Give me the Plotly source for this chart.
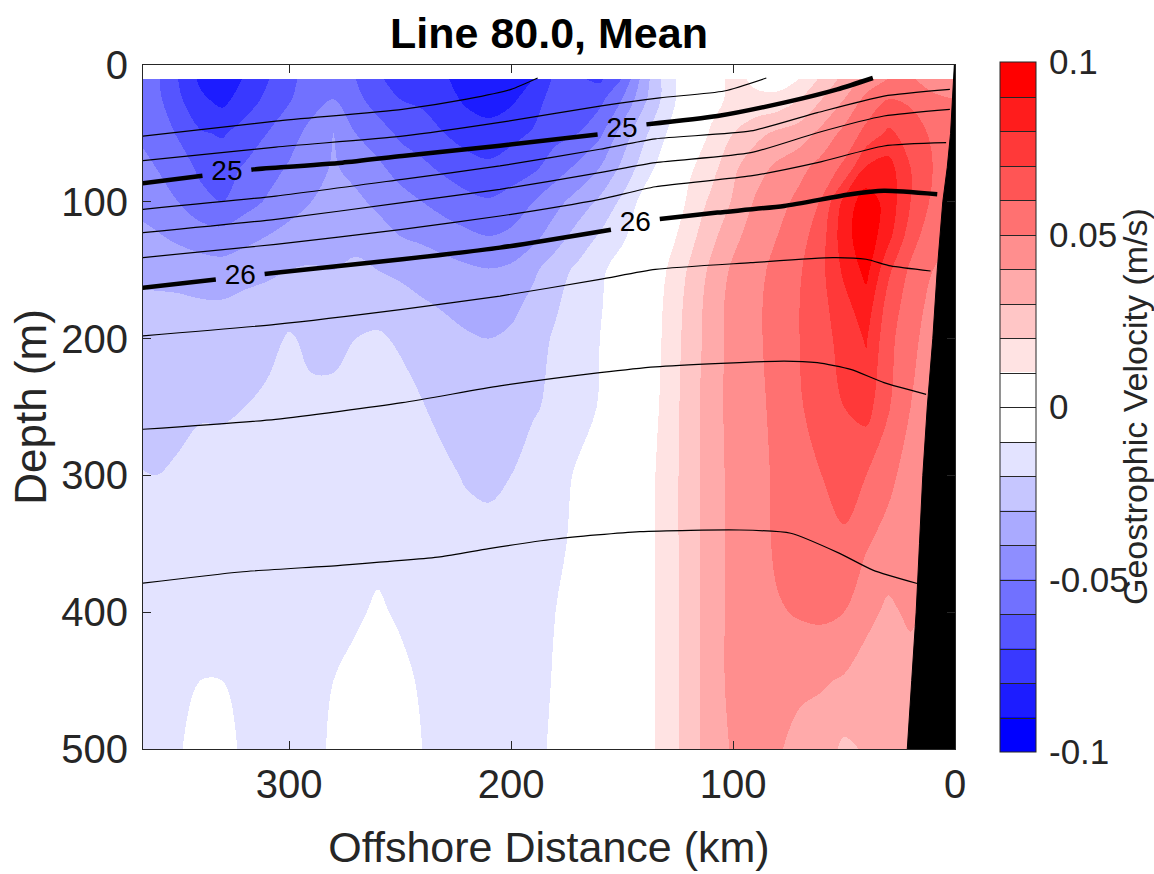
import numpy as np
import plotly.graph_objects as go

# ---------------- data ----------------
# grid columns: offshore distance (km), from offshore (left of plot) to the coast
dist_km = [370, 360, 350, 340, 330, 320, 310, 300, 290, 280, 270, 260, 250, 240, 230, 220, 210, 200, 190,
           180, 170, 160, 150, 140, 130, 120, 110, 100, 90, 80, 70, 60, 50, 40, 30, 20, 10, 0]
depth_m = [10, 25, 50, 75, 100, 125, 150, 175, 200, 250, 300, 350, 400, 450, 500]

# mean geostrophic velocity (cm/s), one row per depth, columns as dist_km
vel_cm = [
    [-5.3, -5.8, -7.0, -8.2, -8.8, -7.9, -7.1, -6.3, -5.5, -5.3, -6.0, -6.9, -7.3, -7.5, -7.9, -8.4, -8.8, -8.6, -8.0,
     -6.8, -6.9, -7.2, -6.0, -3.5, -1.5, -0.3, 0.5, 1.3, 0.8, 0.5, 1.0, 2.2, 3.3, 4.3, 5.0, 5.1, 4.6, 4.5],
    [-5.2, -5.7, -6.8, -7.8, -8.3, -7.5, -6.8, -6.1, -5.4, -5.0, -5.7, -6.5, -7.0, -7.2, -7.6, -8.2, -8.5, -8.2, -7.5,
     -6.5, -6.8, -6.3, -5.0, -3.2, -1.6, -0.2, 0.7, 1.2, 1.2, 1.3, 2.0, 3.0, 4.0, 5.3, 6.0, 5.8, 5.2, 5.0],
    [-5.0, -5.4, -6.1, -6.9, -7.1, -6.6, -6.0, -5.4, -4.7, -4.0, -5.0, -5.5, -6.2, -6.5, -7.0, -7.4, -7.6, -7.3, -6.9,
     -6.3, -6.0, -5.2, -3.6, -2.2, -1.0, 0.2, 1.1, 2.0, 2.7, 3.2, 3.5, 4.3, 5.3, 6.3, 7.2, 6.6, 5.8, 5.5],
    [-4.6, -5.0, -5.5, -6.2, -6.4, -5.9, -5.4, -4.9, -4.4, -3.9, -4.3, -4.8, -5.4, -5.8, -6.2, -6.6, -6.8, -6.5, -6.2,
     -5.5, -4.8, -4.0, -2.8, -1.5, -0.4, 0.8, 1.6, 2.8, 3.6, 4.2, 4.7, 5.4, 6.2, 8.1, 8.4, 7.0, 6.0, 5.6],
    [-4.2, -4.5, -5.0, -5.7, -6.0, -5.4, -4.9, -4.4, -4.0, -3.7, -3.8, -4.2, -4.6, -5.0, -5.4, -5.7, -5.9, -5.6, -5.0,
     -4.3, -3.6, -2.8, -1.8, -0.6, -0.2, 1.2, 2.2, 3.1, 4.1, 4.6, 5.3, 6.1, 8.3, 9.6, 8.6, 7.0, 5.8, 5.3],
    [-3.7, -3.9, -4.2, -4.5, -4.6, -4.3, -4.0, -3.7, -3.5, -3.4, -3.3, -3.6, -4.0, -4.2, -4.5, -4.8, -5.0, -4.8, -4.3,
     -3.5, -2.6, -1.9, -1.2, -0.3, 0.5, 1.6, 2.7, 3.7, 4.5, 5.0, 5.6, 6.6, 8.6, 9.7, 8.3, 6.5, 5.3, 5.0],
    [-3.2, -3.3, -3.4, -3.5, -3.6, -3.4, -3.2, -3.0, -2.9, -3.0, -2.8, -3.0, -3.2, -3.4, -3.6, -3.8, -3.95, -3.8, -3.2,
     -2.4, -1.8, -1.2, -0.5, 0.1, 1.0, 2.1, 3.2, 4.2, 4.7, 5.3, 5.9, 6.8, 8.2, 9.3, 7.2, 5.8, 5.0, 4.6],
    [-2.8, -2.8, -2.8, -2.9, -2.9, -2.7, -2.6, -2.4, -2.5, -2.6, -2.3, -2.3, -2.6, -2.9, -3.1, -3.3, -3.5, -3.3, -2.7,
     -2.1, -1.6, -1.1, -0.4, 0.2, 1.15, 2.3, 3.4, 4.4, 4.8, 5.4, 6.0, 6.7, 7.7, 8.6, 6.6, 5.5, 4.7, 4.4],
    [-2.5, -2.5, -2.5, -2.5, -2.5, -2.4, -2.3, -1.9, -2.2, -2.3, -2.0, -1.9, -2.1, -2.4, -2.7, -2.9, -3.0, -2.8, -2.3,
     -1.9, -1.4, -1.0, -0.3, 0.3, 1.2, 2.4, 3.4, 4.4, 4.8, 5.4, 6.0, 6.6, 7.4, 8.1, 6.3, 5.3, 4.5, 4.2],
    [-2.2, -2.3, -2.2, -2.1, -2.1, -2.0, -1.8, -1.6, -1.8, -1.7, -1.7, -1.6, -1.7, -1.95, -2.3, -2.5, -2.6, -2.4, -2.1,
     -1.8, -1.3, -0.95, -0.3, 0.4, 1.3, 2.5, 3.5, 4.4, 4.7, 5.3, 5.9, 6.5, 7.0, 7.4, 6.1, 5.0, 4.2, 4.0],
    [-1.95, -2.0, -1.9, -1.7, -1.7, -1.6, -1.5, -1.4, -1.5, -1.5, -1.5, -1.4, -1.4, -1.6, -1.8, -2.1, -2.2, -2.0, -1.6,
     -1.3, -0.9, -0.6, -0.2, 0.6, 1.4, 2.5, 3.5, 4.3, 4.6, 5.2, 5.6, 6.0, 6.5, 6.0, 5.3, 4.5, 4.0, 3.8],
    [-1.6, -1.5, -1.5, -1.4, -1.4, -1.4, -1.3, -1.3, -1.3, -1.3, -1.3, -1.2, -1.3, -1.3, -1.4, -1.6, -1.7, -1.5, -1.4,
     -1.2, -0.8, -0.5, -0.2, 0.6, 1.4, 2.5, 3.5, 4.3, 4.5, 5.2, 5.4, 5.6, 5.8, 5.1, 4.6, 4.3, 3.8, 3.6],
    [-1.4, -1.4, -1.4, -1.2, -1.2, -1.3, -1.3, -1.3, -1.3, -1.15, -1.1, -0.9, -1.1, -1.2, -1.3, -1.4, -1.4, -1.3, -1.3,
     -1.0, -0.7, -0.4, -0.2, 0.6, 1.4, 2.5, 3.5, 4.3, 4.5, 4.9, 5.1, 5.2, 5.0, 4.3, 3.8, 4.2, 3.6, 3.4],
    [-1.3, -1.3, -1.3, -1.0, -1.0, -1.2, -1.3, -1.3, -1.3, -1.0, -0.8, -0.6, -0.8, -1.1, -1.2, -1.3, -1.3, -1.2, -1.2,
     -0.95, -0.6, -0.4, -0.2, 0.6, 1.4, 2.5, 3.5, 4.3, 4.4, 4.4, 4.2, 4.1, 3.9, 3.5, 3.4, 3.5, 3.4, 3.2],
    [-1.2, -1.2, -1.1, -0.6, -0.6, -1.2, -1.3, -1.3, -1.2, -0.9, -0.5, -0.3, -0.5, -1.0, -1.2, -1.2, -1.2, -1.15, -1.15,
     -0.9, -0.6, -0.4, -0.2, 0.6, 1.4, 2.5, 3.5, 4.1, 4.3, 4.1, 3.7, 3.5, 2.8, 3.1, 3.2, 3.2, 3.2, 3.0],
]

# isopycnals (sigma-theta): depth (m) at offshore distances (km)
iso_thin = {
    "24.50": ([366, 306, 249, 220, 200, 188], [52, 41, 32.4, 25, 17.8, 9.5]),
    "24.75": ([366, 306, 249, 205, 160, 133, 104, 85], [70, 60, 52, 42, 30, 24, 19, 9.5]),
    "25.25": ([366, 306, 249, 205, 160, 135, 92, 62, 32, 2.3],
              [105.5, 95.8, 83.6, 73.8, 61.6, 54, 48.2, 34.8, 22.7, 17.8]),
    "25.50": ([366, 306, 249, 205, 160, 135, 92, 62, 32, 2.3],
              [122.6, 112.8, 100.6, 90.9, 78.7, 71.4, 64.1, 49.5, 37.3, 32.4]),
    "25.75": ([366, 306, 249, 205, 160, 135, 92, 62, 32, 4],
              [140.8, 131.1, 120.1, 110.4, 98.2, 89, 81.1, 71.4, 59.2, 56.8]),
    "26.25": ([366, 306, 249, 205, 160, 135, 92, 55, 40, 29, 11],
              [198, 189.6, 178.6, 168.9, 156.7, 149.4, 144.5, 140.8, 142, 146.9, 150.6]),
    "26.50": ([366, 306, 249, 205, 160, 135, 77, 62, 47, 32, 13],
              [266.3, 259, 246.8, 234.6, 224.9, 220.6, 216.4, 217.6, 222.5, 232.2, 240.8]),
    "26.75": ([367, 322, 277, 232, 210, 180, 142, 97, 74, 52, 37, 17],
              [379, 370.6, 365.7, 359.6, 353.5, 346.5, 341.1, 339.9, 342.3, 357, 369.2, 379]),
}
iso_bold = {
    "25": ([366, 316, 276, 249, 205, 160, 139, 107, 77, 53, 37],
           [86.5, 76.3, 71.4, 66.5, 59, 50.7, 43.4, 37.3, 27.5, 17.8, 9.5]),
    "26": ([366, 306, 249, 205, 154, 134, 107, 77, 47, 32, 8],
           [162.8, 151.8, 142, 133.5, 120.1, 112.8, 107.9, 103, 94.5, 92, 94.5]),
}
# where the inline labels of the bold isopycnals sit (km)
label_km = {"25": [328, 150], "26": [322, 144]}
label_halfgap_km = 11

# bathymetry (shelf/slope): offshore distance of the bottom at each depth
bottom_km = [0.3, 1.0, 2.0, 3.5, 5.5, 8.0, 10.0, 12.5, 14.5, 16.0, 17.5, 19.5, 21.5]
bottom_depth = [0, 25, 50, 75, 100, 150, 200, 250, 300, 350, 400, 450, 500]
coast_km = 0

x_ticks = [0, 100, 200, 300]
y_ticks = [0, 100, 200, 300, 400, 500]
cb_tickvals = [-0.1, -0.05, 0, 0.05, 0.1]
cb_ticktext = ["-0.1", "-0.05", "0", "0.05", "0.1"]

# 20 discrete bands from -0.1 to 0.1 m/s (blue -> white -> red)
band_colors = [
    "rgb(0,0,255)", "rgb(28,28,255)", "rgb(57,57,255)", "rgb(85,85,255)", "rgb(113,113,255)",
    "rgb(142,142,255)", "rgb(170,170,255)", "rgb(198,198,255)", "rgb(227,227,255)", "rgb(255,255,255)",
    "rgb(255,255,255)", "rgb(255,227,227)", "rgb(255,198,198)", "rgb(255,170,170)", "rgb(255,142,142)",
    "rgb(255,113,113)", "rgb(255,85,85)", "rgb(255,57,57)", "rgb(255,28,28)", "rgb(255,0,0)",
]

# ---------------- figure ----------------
FONT = "Liberation Sans, Arial, Helvetica, sans-serif"
TXT = "#262626"
W, H = 1154, 874
ML, MR, MT, MB = 143, 199, 65, 125
PW, PH = W - ML - MR, H - MT - MB

x = np.array(dist_km[::-1], dtype=float)
z = (np.array(vel_cm, dtype=float) / 100.0)[:, ::-1]

nb = len(band_colors)
# fill colorscale for levels -0.1..0.1 step 0.01 (plotly samples at band centres)
fill_scale = [[0, "white"], [0.5 / (nb + 1), "white"]]
for k, c in enumerate(band_colors):
    fill_scale += [[(k + 0.5) / (nb + 1), c], [(k + 1.5) / (nb + 1), c]]
fill_scale += [[(nb + 0.5) / (nb + 1), "white"], [1, "white"]]
# colorbar colorscale spanning exactly -0.1..0.1
cb_scale = []
for k, c in enumerate(band_colors):
    cb_scale += [[k / nb, c], [(k + 1) / nb, c]]

fig = go.Figure()

fig.add_trace(go.Contour(
    x=x, y=depth_m, z=z,
    colorscale=fill_scale,
    contours=dict(start=-0.1, end=0.1, size=0.01, coloring="fill", showlines=False),
    line=dict(width=0, smoothing=1),
    showscale=False, hoverinfo="skip",
))

# colour bar (drawn by an off-axis contour trace so that the bar spans exactly +-0.1)
fig.add_trace(go.Contour(
    x=[5000, 5001], y=[5000, 5001], z=[[-0.1, 0.1], [-0.1, 0.1]],
    zauto=False, zmin=-0.1, zmax=0.1, colorscale=cb_scale,
    contours=dict(start=-0.09, end=0.09, size=0.01, coloring="heatmap", showlines=True),
    line=dict(color=TXT, width=1),
    hoverinfo="skip", showscale=True,
    colorbar=dict(
        thickness=36, thicknessmode="pixels", len=690, lenmode="pixels",
        x=(1000 - ML) / PW, xanchor="left", xpad=0,
        y=1 - (407 - MT) / PH, yanchor="middle", ypad=0,
        outlinecolor=TXT, outlinewidth=1,
        tickmode="array", tickvals=cb_tickvals, ticktext=cb_ticktext,
        ticks="outside", ticklen=6, tickcolor="rgba(0,0,0,0)",
        tickfont=dict(family=FONT, size=35, color=TXT),
    ),
))

for name, (xs, ys) in iso_thin.items():
    fig.add_trace(go.Scatter(x=xs, y=ys, mode="lines", line=dict(color="black", width=1.2, shape="spline", smoothing=0.6),
                             hoverinfo="skip", showlegend=False))


def gapped(xs, ys, centres, hw):
    xa = np.array(xs[::-1], float)
    ya = np.array(ys[::-1], float)
    outx, outy = [], []
    pts = sorted(list(zip(xa, ya)))
    cuts = sorted(centres)
    edges = [-1e9]
    for c in cuts:
        edges += [c - hw, c + hw]
    edges.append(1e9)
    for i in range(0, len(edges), 2):
        a, b = edges[i], edges[i + 1]
        seg = [(px, py) for px, py in pts if a < px < b]
        if a > -1e8:
            seg = [(a, float(np.interp(a, xa, ya)))] + seg
        if b < 1e8:
            seg = seg + [(b, float(np.interp(b, xa, ya)))]
        outx += [p[0] for p in seg] + [None]
        outy += [p[1] for p in seg] + [None]
    return outx, outy, [float(np.interp(c, xa, ya)) for c in centres]


for name, (xs, ys) in iso_bold.items():
    gx, gy, ly = gapped(xs, ys, label_km[name], label_halfgap_km)
    fig.add_trace(go.Scatter(x=gx, y=gy, mode="lines", line=dict(color="black", width=4.5, shape="spline", smoothing=0.6),
                             hoverinfo="skip", showlegend=False, connectgaps=False))
    fig.add_trace(go.Scatter(x=label_km[name], y=ly, mode="text", text=[name] * len(ly),
                             textfont=dict(family=FONT, size=28, color="black"),
                             textposition="middle center", hoverinfo="skip", showlegend=False))

# bathymetry
fig.add_trace(go.Scatter(
    x=bottom_km + [coast_km, coast_km], y=bottom_depth + [bottom_depth[-1], bottom_depth[0]],
    mode="lines", fill="toself", fillcolor="black", line=dict(color="black", width=1),
    hoverinfo="skip", showlegend=False))

axis_common = dict(
    showgrid=False, zeroline=False, showline=True, linecolor=TXT, linewidth=1, mirror="allticks",
    ticks="inside", ticklen=8, tickwidth=1, tickcolor=TXT,
    tickfont=dict(family=FONT, size=40, color=TXT),
)
fig.update_layout(
    width=W, height=H,
    margin=dict(l=ML, r=MR, t=MT, b=MB, autoexpand=False),
    paper_bgcolor="white", plot_bgcolor="white",
    showlegend=False,
    title=dict(text="<b>Line 80.0, Mean</b>", x=0.5, xref="paper", xanchor="center",
               y=1 - 33 / H, yref="container", yanchor="middle",
               font=dict(family=FONT, size=43, color="black")),
    xaxis=dict(range=[365.8, 0], tickvals=x_ticks, ticklabelstandoff=0,
               title=dict(text="Offshore Distance (km)", font=dict(family=FONT, size=43, color=TXT), standoff=26),
               **axis_common),
    yaxis=dict(range=[500, 0], tickvals=y_ticks, ticklabelstandoff=6,
               title=dict(text="Depth (m)", font=dict(family=FONT, size=44, color=TXT), standoff=0),
               **axis_common),
    annotations=[dict(
        text="Geostrophic Velocity (m/s)", textangle=-90, showarrow=False,
        xref="paper", yref="paper", x=(1135 - ML) / PW, y=1 - (407 - MT) / PH,
        xanchor="center", yanchor="middle",
        font=dict(family=FONT, size=34, color=TXT),
    )],
)

# page tweaks: no body margin; draw the stacked contour fills without anti-aliased seams
post = (
    "document.body.style.margin='0px';"
    "document.querySelectorAll('g.contourfill path, g.contourbg path')"
    ".forEach(function(p){p.setAttribute('shape-rendering','crispEdges');});"
)
fig.write_html("out.html", config={"displayModeBar": False}, post_script=post)
